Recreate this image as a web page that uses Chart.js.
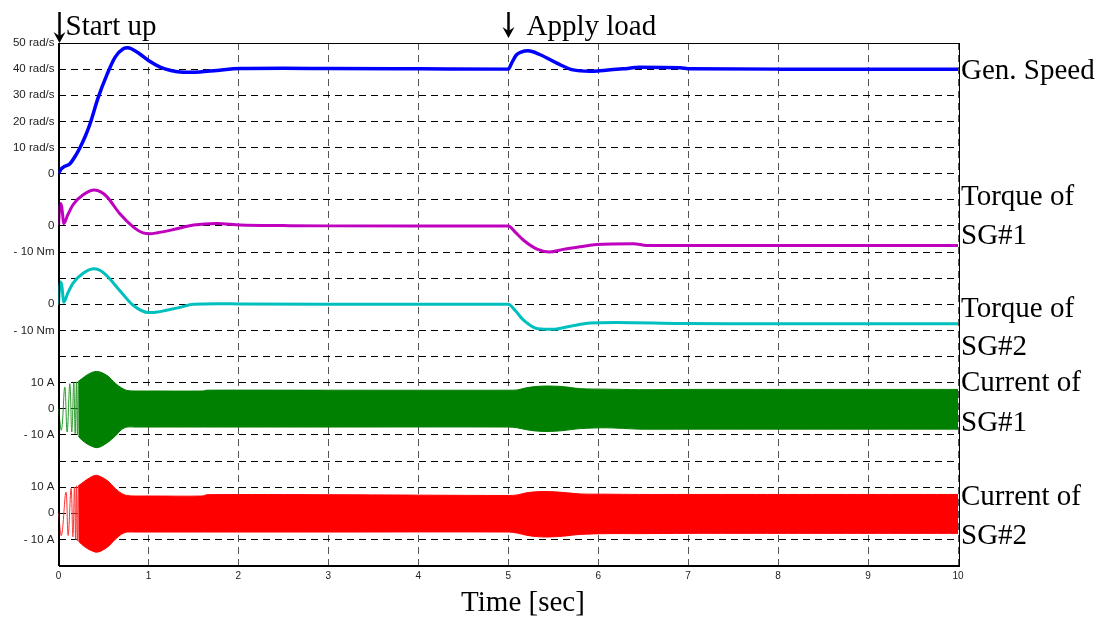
<!DOCTYPE html>
<html>
<head>
<meta charset="utf-8">
<script src="https://cdn.jsdelivr.net/npm/chart.js@4"></script>
<style>
    body { margin: 0; background: #fff; }
    #wrap { width: 1113px; height: 618px; }
</style>
</head>
<body>
<div id="wrap"><canvas id="simChart" width="1113" height="618"></canvas></div>
<script>
    // values
    const speedTime = [0, 0.03, 0.06, 0.13, 0.2, 0.24, 0.3, 0.35, 0.44, 0.54, 0.63, 0.72, 0.77, 0.81, 0.9, 1.0, 1.13, 1.25, 1.35, 1.46, 1.57, 1.76, 2.02, 2.5, 3.0, 4.0, 5.0, 5.04, 5.09, 5.15, 5.22, 5.35, 5.54, 5.72, 5.91, 6.06, 6.28, 6.46, 6.91, 7.02, 8, 9, 10];
    const speedValues = [0, 1.8, 2.6, 3.9, 7.5, 10, 14.5, 19, 29, 38, 44.6, 47.8, 48.2, 47.8, 45.9, 43.3, 40.8, 39.5, 38.9, 38.8, 38.9, 39.5, 40.2, 40.3, 40.2, 40.1, 40, 42.5, 45.4, 46.6, 47, 45.6, 42.3, 39.7, 39.2, 39.5, 40.1, 40.7, 40.5, 40.1, 40, 40, 40];

    const torque1Time = [0, 0.01, 0.02, 0.035, 0.06, 0.1, 0.16, 0.27, 0.4, 0.47, 0.54, 0.68, 0.83, 0.94, 1.02, 1.09, 1.28, 1.5, 1.76, 2.02, 2.5, 3, 4, 5, 5.08, 5.17, 5.32, 5.46, 5.61, 5.8, 5.98, 6.39, 6.54, 7, 8, 9, 10];
    const torque1Values = [0, 6, 8.6, 7.5, 0.9, 4, 8, 11.8, 13.7, 13, 11.1, 4.7, -0.4, -2.7, -3, -2.7, -1.4, 0.3, 0.9, 0.3, 0.1, 0, 0, 0, -2.5, -5.5, -8.9, -10, -9, -8, -7.1, -6.8, -7.5, -7.5, -7.5, -7.5, -7.5];

    const torque2Time = [0, 0.01, 0.02, 0.035, 0.06, 0.1, 0.16, 0.27, 0.4, 0.47, 0.54, 0.68, 0.83, 1.0, 1.1, 1.2, 1.35, 1.5, 1.76, 2.02, 3, 4, 5, 5.08, 5.17, 5.33, 5.5, 5.69, 5.91, 6.2, 6.91, 7.5, 8, 9, 10];
    const torque2Values = [0, 6, 8.5, 7.5, 0.8, 4, 8, 11.8, 13.6, 12.8, 10.8, 5.3, -0.4, -3.2, -3, -2.3, -1.2, 0, 0.2, 0.1, 0, 0, 0, -2.5, -6.1, -9.4, -9.6, -8.4, -7.2, -7, -7.4, -7.5, -7.5, -7.5, -7.5];

    // currents: envelope of the fast oscillation + the slow first cycles
    const envelopeTime = [0.22, 0.26, 0.32, 0.38, 0.42, 0.47, 0.55, 0.63, 0.7, 0.76, 0.85, 1.0, 1.6, 1.65, 3.0, 5.0, 5.1, 5.2, 5.3, 5.43, 5.6, 5.8, 6.1, 6.46, 7.0, 8.0, 9.0, 10.0];
    const current1Upper = [10.5, 11.5, 13, 14, 14.3, 14, 12.5, 9.8, 8, 7, 6.8, 6.8, 6.8, 7.1, 7.1, 7.1, 7.2, 8, 8.5, 8.7, 8.5, 7.7, 7.5, 7.3, 7.4, 7.4, 7.4, 7.4];
    const current1Lower = [-10.5, -12, -13.5, -14.5, -14.9, -14.5, -12.8, -10.5, -8, -7, -7, -7, -7, -7, -7, -7, -7.3, -8, -8.5, -8.7, -8.4, -7.6, -7.3, -7.8, -7.8, -7.8, -7.8, -7.8];
    const current2Upper = [10.5, 11.5, 13, 14.2, 14.5, 14, 12.3, 9.5, 7.6, 6.8, 6.6, 6.6, 6.6, 7.1, 7.1, 6.8, 7, 7.8, 8.2, 8.3, 8, 7.4, 7.3, 7.2, 7.2, 7.2, 7.2, 7.2];
    const current2Lower = [-10.5, -12, -13.5, -14.5, -14.9, -14.5, -12.8, -10, -8, -7.2, -7.2, -7.2, -7.2, -7.2, -7.2, -7.2, -7.6, -8.4, -8.9, -9.1, -8.8, -8.1, -7.8, -7.8, -7.7, -7.7, -7.7, -7.7];

    const current1StartTime = [0, 0.033, 0.07, 0.096, 0.126, 0.148, 0.17, 0.185, 0.2, 0.21, 0.22];
    const current1Start = [0, -8.1, 8.3, -8.9, 9.6, -8.9, 10, -9.5, 10.3, -10, 10.5];
    const current2StartTime = [0, 0.033, 0.083, 0.107, 0.14, 0.16, 0.178, 0.19, 0.2, 0.21, 0.22];
    const current2Start = [0, -8.5, 8.1, -8.5, 9.5, -9, 10, -10, 10.5, -10.5, 10.5];

    // left axis labels, one per grid row from top to bottom
    const yTickLabels = ['50 rad/s', '40 rad/s', '30 rad/s', '20 rad/s', '10 rad/s', '0', '', '0', '- 10 Nm', '',
        '0', '- 10 Nm', '', '10 A', '0', '- 10 A', '', '10 A', '0', '- 10 A', ''];
    const traceLabels = ['Gen. Speed', 'Torque of', 'SG#1', 'Torque of', 'SG#2', 'Current of', 'SG#1', 'Current of', 'SG#2'];
    const eventLabels = ['Start up', 'Apply load'];
    const eventTimes = [0, 5];
    const xTitle = 'Time [sec]';

    // each trace sits on its own band of the shared grid: 10 units per grid row
    function toRows(times, values, zeroRow) {
        return times.map((t, i) => ({ x: t, y: -zeroRow + values[i] / 10 }));
    }

    function lineSet(data, color, width, extra) {
        return Object.assign({
            data: data,
            borderColor: color,
            backgroundColor: color,
            borderWidth: width,
            pointRadius: 0,
            fill: false,
            cubicInterpolationMode: 'monotone'
        }, extra || {});
    }

    const annotate = {
        id: 'annotate',
        afterDraw(chart) {
            const { ctx, chartArea: a, scales: { x } } = chart;
            ctx.save();
            ctx.strokeStyle = '#000';
            ctx.lineWidth = 1;
            ctx.strokeRect(Math.round(a.left) + 0.5, Math.round(a.top) + 0.5, Math.round(a.right - a.left), Math.round(a.bottom - a.top));

            ctx.fillStyle = '#000';
            ctx.font = '29px "Liberation Serif", "Times New Roman", serif';
            ctx.textBaseline = 'alphabetic';
            ctx.textAlign = 'left';

            // event arrows and captions
            const tips = [43, 38];
            eventTimes.forEach((t, i) => {
                const px = Math.round(x.getPixelForValue(t)) + 0.5;
                const tip = tips[i];
                ctx.lineWidth = 2.5;
                ctx.beginPath();
                ctx.moveTo(px, 12);
                ctx.lineTo(px, tip - 5);
                ctx.stroke();
                ctx.beginPath();
                ctx.moveTo(px, tip);
                ctx.lineTo(px - 6, tip - 11);
                ctx.lineTo(px, tip - 7);
                ctx.lineTo(px + 6, tip - 11);
                ctx.closePath();
                ctx.fill();
                ctx.fillText(eventLabels[i], px + (i === 0 ? 6 : 18), 35);
            });

            const baselines = [79, 205, 244, 317, 355, 391, 431, 505, 544];
            traceLabels.forEach((txt, i) => ctx.fillText(txt, a.right + 3, baselines[i]));

            ctx.textAlign = 'center';
            ctx.fillText(xTitle, 523, 611);
            ctx.restore();
        }
    };

    Chart.defaults.font.family = '"Liberation Sans", Arial, sans-serif';
    Chart.defaults.color = '#222';

    const simChart = new Chart(document.getElementById('simChart').getContext('2d'), {
        type: 'line',
        data: {
            datasets: [
                lineSet(toRows(speedTime, speedValues, 5), '#0000ff', 3.5),
                lineSet(toRows(torque1Time, torque1Values, 7), '#bf00bf', 3),
                lineSet(toRows(torque2Time, torque2Values, 10), '#00bfbf', 3),
                lineSet(toRows(envelopeTime, current1Upper, 14), '#008000', 1, { fill: '+1', tension: 0.3, cubicInterpolationMode: 'default' }),
                lineSet(toRows(envelopeTime, current1Lower, 14), '#008000', 1, { tension: 0.3, cubicInterpolationMode: 'default' }),
                lineSet(toRows(current1StartTime, current1Start, 14), '#2a9a2a', 1, { tension: 0.4, cubicInterpolationMode: 'default' }),
                lineSet(toRows(envelopeTime, current2Upper, 18), '#ff0000', 1, { fill: '+1', tension: 0.3, cubicInterpolationMode: 'default' }),
                lineSet(toRows(envelopeTime, current2Lower, 18), '#ff0000', 1, { tension: 0.3, cubicInterpolationMode: 'default' }),
                lineSet(toRows(current2StartTime, current2Start, 18), '#ff3030', 1, { tension: 0.4, cubicInterpolationMode: 'default' })
            ]
        },
        options: {
            responsive: false,
            animation: false,
            devicePixelRatio: 1,
            layout: { padding: { left: 0, top: 43, right: 155, bottom: 0 } },
            scales: {
                x: {
                    type: 'linear',
                    min: 0,
                    max: 10,
                    afterFit: scale => { scale.height = 52.5; },
                    ticks: { stepSize: 1, padding: 5, font: { size: 10 }, color: '#222', maxRotation: 0 },
                    grid: { color: '#555', lineWidth: 1, drawTicks: false },
                    border: { display: true, color: '#000', width: 1, dash: [7, 5] }
                },
                y: {
                    type: 'linear',
                    min: -20,
                    max: 0,
                    afterFit: scale => { scale.width = 58.5; },
                    ticks: {
                        stepSize: 1,
                        maxTicksLimit: 25,
                        autoSkip: false,
                        padding: 4,
                        font: { size: 11.5 },
                        color: '#222',
                        callback: value => yTickLabels[Math.round(-value)]
                    },
                    grid: { color: '#000', lineWidth: 1, drawTicks: false },
                    border: { display: true, color: '#000', width: 1, dash: [7, 5] }
                }
            },
            plugins: {
                legend: { display: false },
                tooltip: { enabled: false },
                title: { display: false }
            }
        },
        plugins: [annotate]
    });
</script>
</body>
</html>
